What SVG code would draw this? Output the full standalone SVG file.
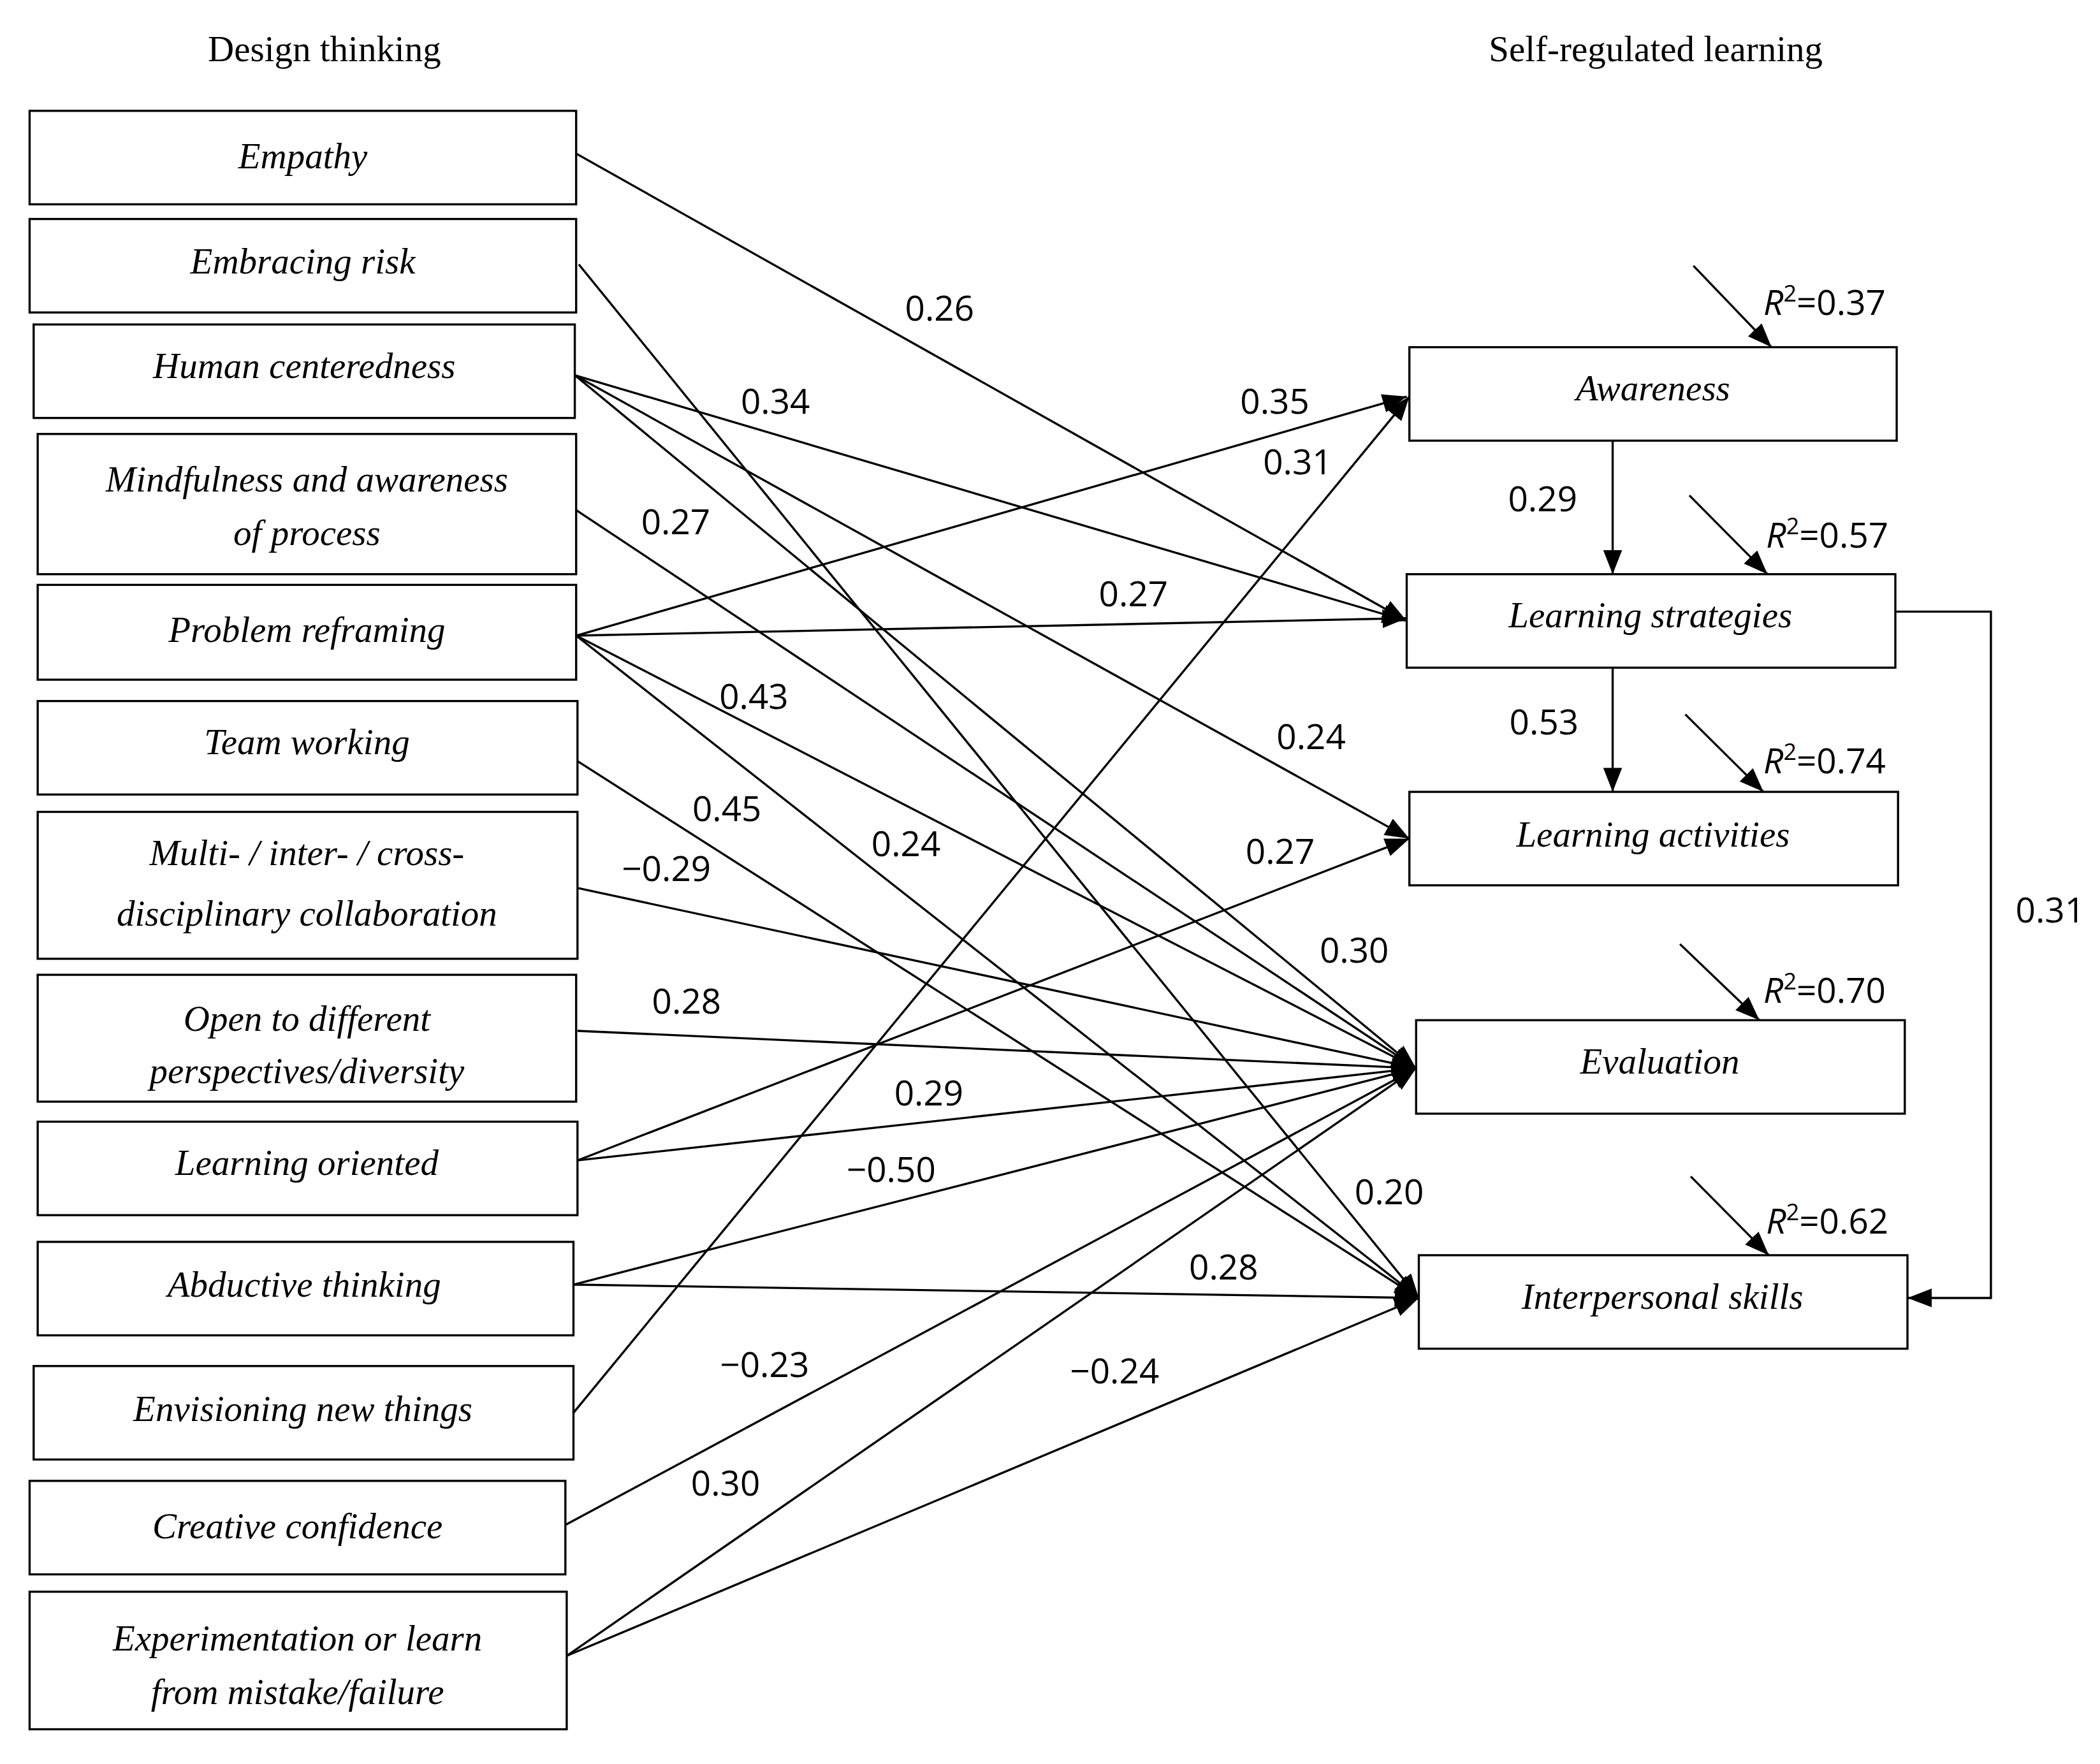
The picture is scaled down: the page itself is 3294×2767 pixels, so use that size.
<svg xmlns="http://www.w3.org/2000/svg" width="3294" height="2767" viewBox="0 0 3294 2767">
<style>
.b{fill:#fff;stroke:#000;stroke-width:1.6}
.t{font-family:"Liberation Serif",serif;font-style:italic;font-size:27px;text-anchor:middle;fill:#000}
.h{font-family:"Liberation Serif",serif;font-size:27px;text-anchor:middle;fill:#000}
.n{font-family:"Open Sans","Liberation Sans",sans-serif;font-size:26px;text-anchor:middle;fill:#000}
.r{font-family:"Open Sans","Liberation Sans",sans-serif;font-size:26px;fill:#000}
.c line,.c path{stroke:#000;stroke-width:1.6;fill:none;marker-end:url(#a)}
</style>
<defs><marker id="a" markerUnits="userSpaceOnUse" markerWidth="20" markerHeight="16" refX="18" refY="7" orient="auto"><path d="M0,0 L18,7 L0,14 Z" fill="#000"/></marker></defs>
<rect width="3294" height="2767" fill="#fff"/>
<g transform="scale(2.1115,2.0946)">
<text class="h" x="241" y="46">Design thinking</text>
<text class="h" x="1230" y="46">Self-regulated learning</text>
<g id="n1"><rect class="b" x="22" y="83" width="406" height="70"/><text class="t" x="225" y="126">Empathy</text></g>
<g id="n2"><rect class="b" x="22" y="164" width="406" height="70"/><text class="t" x="225" y="205">Embracing risk</text></g>
<g id="n3"><rect class="b" x="25" y="243" width="402" height="70"/><text class="t" x="226" y="283">Human centeredness</text></g>
<g id="n4"><rect class="b" x="28" y="325" width="400" height="105"/><text class="t" x="228" y="368">Mindfulness and awareness</text><text class="t" x="228" y="408">of process</text></g>
<g id="n5"><rect class="b" x="28" y="438" width="400" height="71"/><text class="t" x="228" y="481">Problem reframing</text></g>
<g id="n6"><rect class="b" x="28" y="525" width="401" height="70"/><text class="t" x="228" y="565">Team working</text></g>
<g id="n7"><rect class="b" x="28" y="608" width="401" height="110"/><text class="t" x="228" y="648">Multi- / inter- / cross-</text><text class="t" x="228" y="693">disciplinary collaboration</text></g>
<g id="n8"><rect class="b" x="28" y="730" width="400" height="95"/><text class="t" x="228" y="772">Open to different</text><text class="t" x="228" y="811">perspectives/diversity</text></g>
<g id="n9"><rect class="b" x="28" y="840" width="401" height="70"/><text class="t" x="228" y="880">Learning oriented</text></g>
<g id="n10"><rect class="b" x="28" y="930" width="398" height="70"/><text class="t" x="226" y="971">Abductive thinking</text></g>
<g id="n11"><rect class="b" x="25" y="1023" width="401" height="70"/><text class="t" x="225" y="1064">Envisioning new things</text></g>
<g id="n12"><rect class="b" x="22" y="1109" width="398" height="70"/><text class="t" x="221" y="1152">Creative confidence</text></g>
<g id="n13"><rect class="b" x="22" y="1192" width="399" height="103"/><text class="t" x="221" y="1236">Experimentation or learn</text><text class="t" x="221" y="1276">from mistake/failure</text></g>
<g id="r1"><rect class="b" x="1047" y="260" width="362" height="70"/><text class="t" x="1228" y="300">Awareness</text></g>
<g id="r2"><rect class="b" x="1045" y="430" width="363" height="70"/><text class="t" x="1226" y="470">Learning strategies</text></g>
<g id="r3"><rect class="b" x="1047" y="593" width="363" height="70"/><text class="t" x="1228" y="634">Learning activities</text></g>
<g id="r4"><rect class="b" x="1052" y="764" width="363" height="70"/><text class="t" x="1233" y="804">Evaluation</text></g>
<g id="r5"><rect class="b" x="1054" y="940" width="363" height="70"/><text class="t" x="1235" y="980">Interpersonal skills</text></g>
<g class="c" id="connectors">
<line x1="428" y1="115" x2="1045" y2="465"/>
<line x1="430" y1="198" x2="1054" y2="972"/>
<line x1="427" y1="281" x2="1045" y2="465"/>
<line x1="427" y1="281" x2="1047" y2="628"/>
<line x1="427" y1="281" x2="1052" y2="800"/>
<line x1="428" y1="382" x2="1052" y2="800"/>
<line x1="428" y1="476" x2="1045" y2="297"/>
<line x1="428" y1="476" x2="1045" y2="463"/>
<line x1="428" y1="476" x2="1052" y2="800"/>
<line x1="428" y1="476" x2="1054" y2="972"/>
<line x1="429" y1="570" x2="1054" y2="972"/>
<line x1="429" y1="665" x2="1052" y2="800"/>
<line x1="429" y1="772" x2="1052" y2="800"/>
<line x1="429" y1="869" x2="1047" y2="628"/>
<line x1="429" y1="869" x2="1052" y2="800"/>
<line x1="426" y1="962" x2="1052" y2="800"/>
<line x1="426" y1="962" x2="1054" y2="972"/>
<line x1="426" y1="1058" x2="1047" y2="297"/>
<line x1="420" y1="1142" x2="1052" y2="800"/>
<line x1="421" y1="1240" x2="1052" y2="800"/>
<line x1="421" y1="1240" x2="1054" y2="972"/>
<line x1="1198" y1="330" x2="1198" y2="430"/>
<line x1="1198" y1="500" x2="1198" y2="593"/>
<path d="M1408,458 H1479 V972 H1417"/>
<line x1="1258" y1="199" x2="1316" y2="260"/>
<line x1="1255" y1="371" x2="1313" y2="430"/>
<line x1="1252" y1="535" x2="1310" y2="593"/>
<line x1="1248" y1="707" x2="1307" y2="764"/>
<line x1="1256" y1="881" x2="1314" y2="940"/>
</g>
<g id="labels">
<text class="n" x="698" y="240">0.26</text>
<text class="n" x="576" y="310">0.34</text>
<text class="n" x="502" y="400">0.27</text>
<text class="n" x="947" y="310">0.35</text>
<text class="n" x="964" y="355">0.31</text>
<text class="n" x="842" y="454">0.27</text>
<text class="n" x="560" y="531">0.43</text>
<text class="n" x="974" y="561">0.24</text>
<text class="n" x="540" y="615">0.45</text>
<text class="n" x="673" y="641">0.24</text>
<text class="n" x="495" y="660">−0.29</text>
<text class="n" x="951" y="647">0.27</text>
<text class="n" x="1006" y="721">0.30</text>
<text class="n" x="510" y="759">0.28</text>
<text class="n" x="690" y="828">0.29</text>
<text class="n" x="662" y="885">−0.50</text>
<text class="n" x="1032" y="902">0.20</text>
<text class="n" x="909" y="958">0.28</text>
<text class="n" x="568" y="1031">−0.23</text>
<text class="n" x="828" y="1036">−0.24</text>
<text class="n" x="539" y="1120">0.30</text>
<text class="n" x="1146" y="383">0.29</text>
<text class="n" x="1147" y="550">0.53</text>
<text class="n" x="1523" y="691">0.31</text>
<text class="r" x="1310" y="236"><tspan font-style="italic">R</tspan><tspan dy="-10" font-size="17">2</tspan><tspan dy="10">=0.37</tspan></text>
<text class="r" x="1312" y="410"><tspan font-style="italic">R</tspan><tspan dy="-10" font-size="17">2</tspan><tspan dy="10">=0.57</tspan></text>
<text class="r" x="1310" y="579"><tspan font-style="italic">R</tspan><tspan dy="-10" font-size="17">2</tspan><tspan dy="10">=0.74</tspan></text>
<text class="r" x="1310" y="751"><tspan font-style="italic">R</tspan><tspan dy="-10" font-size="17">2</tspan><tspan dy="10">=0.70</tspan></text>
<text class="r" x="1312" y="924"><tspan font-style="italic">R</tspan><tspan dy="-10" font-size="17">2</tspan><tspan dy="10">=0.62</tspan></text>
</g>
</g>
</svg>
